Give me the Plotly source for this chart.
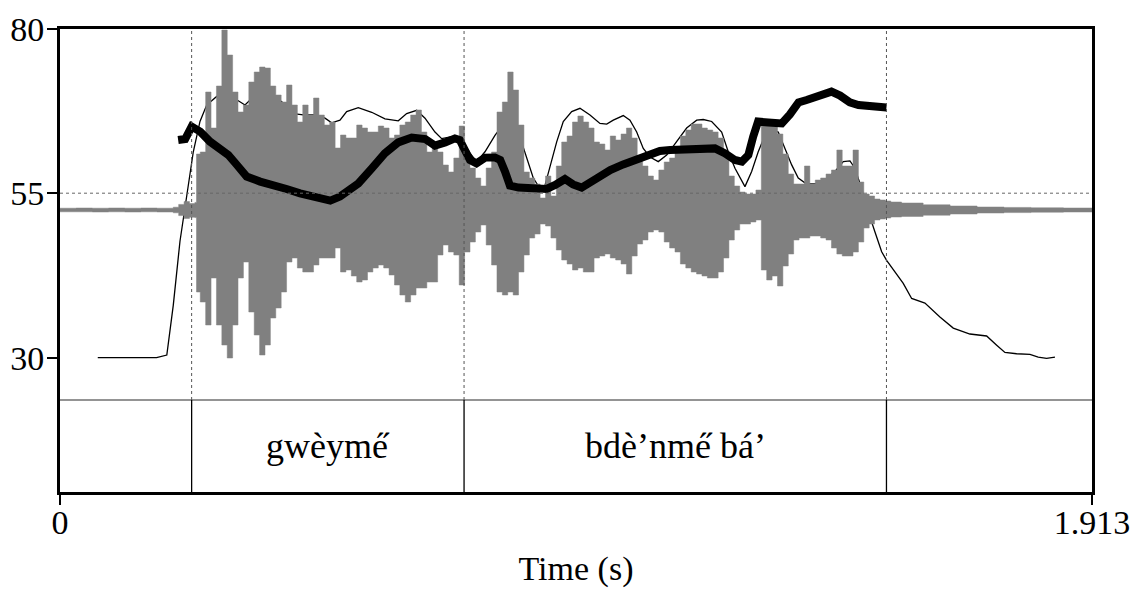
import plotly.graph_objects as go

T_END = 1.913

# TextGrid tier: interval boundaries (s) and their labels
tier_bounds = [0.0, 0.244, 0.749, 1.532, 1.913]
tier_labels = ["", "gwèyme̋", "bdè’nme̋ bá’", ""]

# Y axis ticks (intensity, dB) and the dotted reference level
y_ticks = [30, 55, 80]
ref_level = 55

# Waveform amplitude envelope, drawn step-wise: step start time (s), upper and lower extremes
wave_t = [0.00, 0.03, 0.06, 0.09, 0.12, 0.15, 0.18, 0.21, 0.22, 0.23, 0.24, 0.25, 0.253,
          0.26, 0.27, 0.28, 0.29, 0.30, 0.31, 0.32, 0.33, 0.34, 0.35, 0.36, 0.37, 0.38, 0.39,
          0.40, 0.41, 0.42, 0.43, 0.44, 0.45, 0.46, 0.47, 0.48, 0.49, 0.50, 0.51, 0.52, 0.53,
          0.54, 0.55, 0.56, 0.57, 0.58, 0.59, 0.60, 0.61, 0.62, 0.63, 0.64, 0.65, 0.66, 0.67,
          0.68, 0.69, 0.70, 0.71, 0.72, 0.73, 0.74, 0.75, 0.76, 0.77, 0.78, 0.79, 0.80, 0.81,
          0.82, 0.83, 0.84, 0.85, 0.86, 0.87, 0.88, 0.89, 0.90, 0.91, 0.92, 0.93, 0.94, 0.95,
          0.96, 0.97, 0.98, 0.99, 1.00, 1.01, 1.02, 1.03, 1.04, 1.05, 1.06, 1.07, 1.08, 1.09,
          1.10, 1.11, 1.12, 1.13, 1.14, 1.15, 1.16, 1.17, 1.18, 1.19, 1.20, 1.21, 1.22, 1.23,
          1.24, 1.25, 1.26, 1.27, 1.28, 1.29, 1.30, 1.31, 1.32, 1.33, 1.34, 1.35, 1.36, 1.37,
          1.38, 1.39, 1.40, 1.41, 1.42, 1.43, 1.44, 1.45, 1.46, 1.47, 1.48, 1.49, 1.50, 1.51,
          1.52, 1.53, 1.54, 1.56, 1.60, 1.65, 1.70, 1.75, 1.80, 1.86, 1.913]
wave_hi = [0.009, 0.010, 0.009, 0.010, 0.009, 0.010, 0.009, 0.014, 0.028, 0.042, 0.032, 0.038, 0.280,
           0.290, 0.590, 0.410, 0.620, 0.900, 0.775, 0.590, 0.490, 0.525, 0.640, 0.690, 0.715, 0.710, 0.620,
           0.575, 0.540, 0.625, 0.525, 0.440, 0.525, 0.475, 0.560, 0.475, 0.425, 0.440, 0.310, 0.375, 0.360,
           0.360, 0.425, 0.410, 0.390, 0.390, 0.420, 0.410, 0.360, 0.375, 0.425, 0.440, 0.475, 0.500, 0.390,
           0.290, 0.310, 0.290, 0.225, 0.190, 0.260, 0.420, 0.275, 0.210, 0.160, 0.120, 0.210, 0.290, 0.490,
           0.540, 0.690, 0.600, 0.425, 0.190, 0.160, 0.130, 0.060, 0.170, 0.070, 0.220, 0.340, 0.370, 0.440,
           0.470, 0.440, 0.410, 0.340, 0.330, 0.300, 0.370, 0.350, 0.380, 0.410, 0.360, 0.270, 0.220, 0.170,
           0.150, 0.200, 0.240, 0.260, 0.300, 0.370, 0.400, 0.430, 0.430, 0.410, 0.400, 0.390, 0.360, 0.280,
           0.170, 0.120, 0.090, 0.080, 0.080, 0.100, 0.420, 0.450, 0.440, 0.380, 0.280, 0.180, 0.130, 0.130,
           0.220, 0.130, 0.150, 0.160, 0.180, 0.200, 0.300, 0.220, 0.220, 0.300, 0.140, 0.080, 0.070, 0.055,
           0.050, 0.045, 0.040, 0.035, 0.026, 0.020, 0.015, 0.013, 0.011, 0.010, 0.010]
wave_lo = [-0.009, -0.009, -0.010, -0.009, -0.010, -0.009, -0.010, -0.014, -0.028, -0.042, -0.036, -0.038, -0.410,
           -0.460, -0.575, -0.340, -0.575, -0.675, -0.740, -0.575, -0.340, -0.260, -0.510, -0.625, -0.725, -0.675, -0.540,
           -0.490, -0.410, -0.260, -0.240, -0.290, -0.310, -0.310, -0.275, -0.240, -0.240, -0.240, -0.190, -0.310, -0.300,
           -0.330, -0.360, -0.350, -0.310, -0.290, -0.275, -0.290, -0.325, -0.375, -0.425, -0.460, -0.425, -0.390, -0.390,
           -0.360, -0.360, -0.225, -0.175, -0.210, -0.225, -0.375, -0.210, -0.160, -0.110, -0.075, -0.175, -0.275, -0.410,
           -0.425, -0.410, -0.425, -0.310, -0.225, -0.140, -0.120, -0.070, -0.080, -0.140, -0.200, -0.250, -0.270, -0.300,
           -0.290, -0.310, -0.310, -0.240, -0.230, -0.220, -0.240, -0.250, -0.270, -0.320, -0.230, -0.170, -0.150, -0.110,
           -0.100, -0.110, -0.160, -0.190, -0.210, -0.270, -0.290, -0.310, -0.320, -0.330, -0.340, -0.340, -0.310, -0.240,
           -0.150, -0.100, -0.070, -0.070, -0.060, -0.050, -0.300, -0.350, -0.330, -0.380, -0.280, -0.220, -0.150, -0.140,
           -0.140, -0.130, -0.130, -0.140, -0.150, -0.190, -0.220, -0.230, -0.230, -0.210, -0.160, -0.090, -0.070, -0.050,
           -0.045, -0.040, -0.035, -0.032, -0.026, -0.020, -0.015, -0.013, -0.011, -0.010, -0.010]

# Intensity contour (dB)
int_t = [0.070, 0.179, 0.198, 0.210, 0.2224, 0.2348, 0.2471, 0.2595, 0.2719, 0.2905, 0.3090, 0.3275,
         0.3429, 0.3553, 0.3707, 0.3892, 0.4139, 0.4324, 0.4510, 0.4758, 0.4912, 0.5036, 0.5190, 0.5314,
         0.5529, 0.5778, 0.6024, 0.6271, 0.6426, 0.6612, 0.6766, 0.6951, 0.7075, 0.7260, 0.7446, 0.7600,
         0.7724, 0.7878, 0.8063, 0.8248, 0.8373, 0.8495, 0.8651, 0.8773, 0.889, 0.899, 0.9207, 0.9329,
         0.9485, 0.9639, 0.9824, 1.0009, 1.0134, 1.0256, 1.0441, 1.0565, 1.0690, 1.0812, 1.0936, 1.1090,
         1.1246, 1.1431, 1.1616, 1.1802, 1.1924, 1.2080, 1.2265, 1.2387, 1.2512, 1.2697, 1.2821, 1.2943,
         1.3068, 1.3192, 1.3314, 1.3438, 1.3563, 1.3685, 1.3840, 1.3994, 1.4180, 1.4365, 1.4519, 1.4643,
         1.4736, 1.4860, 1.4982, 1.5107, 1.5231, 1.5323, 1.5477, 1.5631, 1.5787, 1.6033, 1.6311, 1.6558,
         1.6867, 1.7177, 1.7363, 1.7516, 1.7733, 1.7980, 1.8133, 1.8288, 1.8443]
int_db = [30.0, 30.0, 30.4, 38.0, 47.7, 54.7, 61.3, 65.9, 68.4, 69.7, 70.0, 69.2,
          68.4, 69.4, 70.6, 70.2, 68.7, 67.1, 66.9, 66.9, 66.4, 65.7, 66.1, 67.4,
          68.0, 67.3, 66.3, 66.0, 67.1, 67.6, 66.4, 64.3, 63.3, 63.6, 63.1, 61.1,
          59.8, 61.3, 63.8, 65.8, 65.8, 64.3, 60.3, 57.3, 55.8, 56.2, 62.8, 65.9,
          67.4, 67.9, 66.9, 65.6, 65.5, 66.1, 66.8, 66.1, 64.3, 61.8, 60.5, 59.8,
          60.8, 62.8, 64.9, 66.1, 66.2, 65.9, 64.3, 61.3, 58.8, 56.0, 58.3, 61.3,
          63.8, 64.6, 64.3, 61.8, 59.3, 57.3, 56.4, 56.4, 57.0, 58.3, 59.8, 59.9,
          58.8, 55.7, 52.2, 49.1, 46.1, 44.8, 43.1, 41.3, 39.0, 38.3, 36.2, 34.5,
          33.6, 33.3, 31.9, 30.8, 30.6, 30.5, 30.1, 29.9, 30.1]

# Pitch contour (Hz)
f0_t = [0.219, 0.232, 0.244, 0.260, 0.278, 0.300, 0.312, 0.328, 0.346, 0.371, 0.395, 0.420,
        0.445, 0.470, 0.501, 0.519, 0.534, 0.553, 0.578, 0.602, 0.627, 0.652, 0.677, 0.695,
        0.714, 0.732, 0.741, 0.751, 0.760, 0.772, 0.788, 0.806, 0.816, 0.825, 0.834, 0.850,
        0.874, 0.902, 0.918, 0.936, 0.951, 0.967, 0.995, 1.020, 1.044, 1.069, 1.094, 1.112,
        1.131, 1.162, 1.192, 1.214, 1.233, 1.251, 1.264, 1.276, 1.285, 1.294, 1.313, 1.338,
        1.353, 1.369, 1.384, 1.399, 1.418, 1.430, 1.446, 1.464, 1.480, 1.505, 1.532]
f0_hz = [210.0, 210.5, 216.7, 214.2, 209.2, 205.0, 202.5, 197.5, 191.7, 189.2, 187.8, 185.5,
         183.3, 181.7, 179.7, 181.7, 185.0, 188.3, 195.8, 203.3, 208.8, 211.2, 210.5, 207.2,
         208.8, 210.8, 210.0, 204.2, 200.0, 198.3, 201.2, 201.3, 200.0, 194.2, 187.2, 186.2,
         185.8, 185.5, 187.5, 190.5, 187.8, 186.2, 190.8, 195.0, 197.8, 200.0, 202.8, 204.5,
         205.0, 205.3, 205.8, 205.8, 203.3, 200.0, 199.2, 202.5, 211.7, 219.2, 218.8, 218.3,
         222.8, 228.8, 230.0, 231.7, 233.3, 234.2, 232.2, 228.8, 227.5, 227.0, 226.2]

FONT = "Liberation Serif"
W, H = 1137, 589

# panel geometry (paper fractions)
X_DOM = [60 / W, 1092 / W]
BOX_BOTTOM = (H - 492) / H
TIER_TOP = (H - 400) / H
BOX_TOP = (H - 28.7) / H

fig = go.Figure()

# waveform envelope: lower step line, then upper step line filled down to it
fig.add_trace(go.Scatter(x=wave_t, y=wave_lo, mode="lines", line=dict(shape="hv", width=0.5, color="#808080"),
                         xaxis="x", yaxis="y2", showlegend=False, hoverinfo="skip"))
fig.add_trace(go.Scatter(x=wave_t, y=wave_hi, mode="lines", line=dict(shape="hv", width=0.5, color="#808080"),
                         fill="tonexty", fillcolor="#808080", xaxis="x", yaxis="y2",
                         showlegend=False, hoverinfo="skip"))

# intensity (thin) and pitch (thick)
fig.add_trace(go.Scatter(x=int_t, y=int_db, mode="lines", line=dict(color="black", width=1.3),
                         xaxis="x", yaxis="y", showlegend=False))
fig.add_trace(go.Scatter(x=f0_t, y=f0_hz, mode="lines", line=dict(color="black", width=8),
                         xaxis="x", yaxis="y3", showlegend=False))

shapes = []
# dotted reference level
shapes.append(dict(type="line", xref="x domain", x0=0, x1=1, yref="y", y0=ref_level, y1=ref_level,
                   line=dict(color="#666666", width=1, dash="dot"), layer="above"))
# tier separator
shapes.append(dict(type="line", xref="x domain", x0=0, x1=1, yref="y4 domain", y0=1, y1=1,
                   line=dict(color="#707070", width=1.5), layer="above"))
for b in tier_bounds[1:-1]:
    shapes.append(dict(type="line", xref="x", x0=b, x1=b, yref="y2 domain", y0=0, y1=1,
                       line=dict(color="#555555", width=1, dash="dot"), layer="above"))
    shapes.append(dict(type="line", xref="x", x0=b, x1=b, yref="y4 domain", y0=0, y1=1,
                       line=dict(color="black", width=1.3), layer="above"))

annotations = []
for i, lab in enumerate(tier_labels):
    if lab:
        annotations.append(dict(x=(tier_bounds[i] + tier_bounds[i + 1]) / 2, y=0.5, xref="x", yref="y4",
                                text=lab, showarrow=False, font=dict(family=FONT, size=36, color="black"),
                                xanchor="center", yanchor="middle"))

fig.update_layout(
    width=W, height=H, margin=dict(l=0, r=0, t=0, b=0, autoexpand=False),
    paper_bgcolor="white", plot_bgcolor="rgba(0,0,0,0)",
    font=dict(family=FONT, color="black"),
    xaxis=dict(domain=X_DOM, range=[0, T_END], anchor="y", showline=True, linecolor="black", linewidth=3,
               mirror=True, ticks="outside", ticklen=10, tickwidth=2, tickcolor="black",
               tickvals=[0, T_END], ticktext=["0", "1.913"], tickfont=dict(family=FONT, size=34),
               ticklabelstandoff=-12,
               showgrid=False, zeroline=False, automargin=False,
               title=dict(text="Time (s)", font=dict(family=FONT, size=34), standoff=17)),
    yaxis=dict(domain=[BOX_BOTTOM, BOX_TOP], range=[9.59, 80], anchor="x", showline=True, linecolor="black",
               linewidth=3, mirror=True, ticks="outside", ticklen=10, tickwidth=2, tickcolor="black",
               tickvals=y_ticks, ticktext=[str(v) for v in y_ticks], tickfont=dict(family=FONT, size=34),
               ticklabelstandoff=-4,
               showgrid=False, zeroline=False, automargin=False),
    yaxis2=dict(domain=[TIER_TOP, BOX_TOP], range=[-0.95, 0.9065], anchor="x", visible=False),
    yaxis3=dict(domain=[TIER_TOP, BOX_TOP], range=[80, 265.65], anchor="x", visible=False),
    yaxis4=dict(domain=[BOX_BOTTOM, TIER_TOP], range=[0, 1], anchor="x", visible=False),
    shapes=shapes, annotations=annotations,
)

fig.write_html("out.html")
